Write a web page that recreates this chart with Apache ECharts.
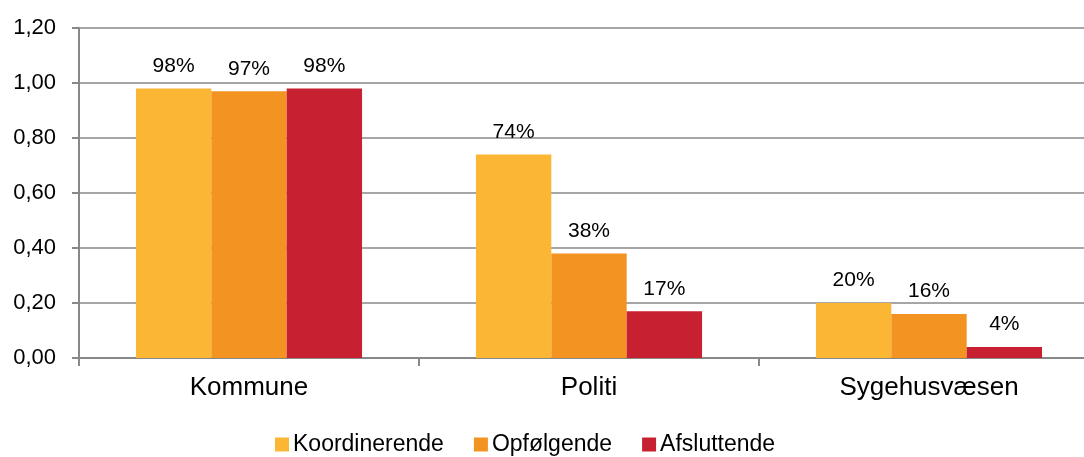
<!DOCTYPE html>
<html>
<head>
<meta charset="utf-8">
<script src="https://cdn.jsdelivr.net/npm/echarts@6/dist/echarts.min.js"></script>
<style>
  html, body { margin: 0; padding: 0; background: #fff; }
  #chart { width: 1084px; height: 457px; }
</style>
</head>
<body>
<div id="chart"></div>
<script>
// Share of cases per sector, by role
const categories = ['Kommune', 'Politi', 'Sygehusvæsen'];
const seriesNames = ['Koordinerende', 'Opfølgende', 'Afsluttende'];
const koordinerende = [0.98, 0.74, 0.20];
const opfoelgende = [0.97, 0.38, 0.16];
const afsluttende = [0.98, 0.17, 0.04];
const colors = ['#FBB634', '#F39322', '#C72131'];

const font = 'Liberation Sans, Arial, sans-serif';
const values = [koordinerende, opfoelgende, afsluttende];

const chart = echarts.init(document.getElementById('chart'), null, { renderer: 'canvas' });
chart.setOption({
  animation: false,
  textStyle: { fontFamily: font },
  grid: {
    left: 79, top: 28, width: 1020, height: 330,
    containLabel: false, outerBoundsMode: 'none'
  },
  legend: {
    left: 270,
    top: 428,
    itemWidth: 14,
    itemHeight: 14,
    itemGap: 30,
    icon: 'rect',
    textStyle: { fontSize: 23, color: '#000', fontFamily: font, padding: [0, 0, 0, -1] },
    data: seriesNames
  },
  xAxis: {
    type: 'category',
    data: categories,
    axisLine: { lineStyle: { color: '#888', width: 2 } },
    axisTick: { show: true, alignWithLabel: false, length: 8, lineStyle: { color: '#888', width: 2 } },
    axisLabel: { fontSize: 26, color: '#000', margin: 17, fontFamily: font }
  },
  yAxis: {
    type: 'value',
    min: 0,
    max: 1.2,
    interval: 0.2,
    axisLine: { show: true, lineStyle: { color: '#888', width: 2 } },
    axisTick: { show: true, inside: false, length: 7, lineStyle: { color: '#888', width: 2 } },
    splitLine: { lineStyle: { color: '#a6a6a6', width: 2 } },
    axisLabel: {
      fontSize: 22, color: '#000', margin: 23, fontFamily: font,
      formatter: v => v.toFixed(2).replace('.', ',')
    }
  },
  series: seriesNames.map((name, i) => ({
    name,
    type: 'bar',
    data: values[i],
    barGap: '0%',
    barCategoryGap: '33.5%',
    itemStyle: { color: colors[i] },
    label: {
      show: true,
      position: 'top',
      distance: 12,
      fontSize: 21,
      color: '#000',
      fontFamily: font,
      formatter: p => Math.round(p.value * 100) + '%'
    }
  }))
});
</script>
</body>
</html>
